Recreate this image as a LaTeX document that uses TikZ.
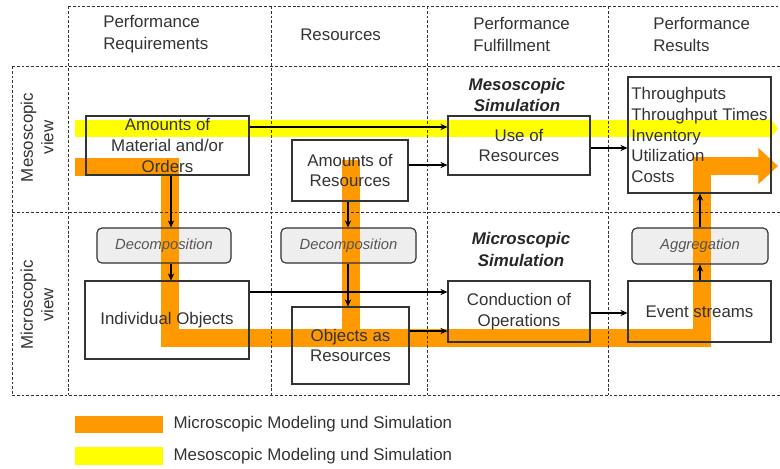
\documentclass[tikz,border=0pt]{standalone}
\usepackage{fontspec}
\setmainfont{Liberation Sans}
\usetikzlibrary{positioning}
\usetikzlibrary{arrows.meta}
\usetikzlibrary{backgrounds}

\definecolor{bandorange}{HTML}{FF9900}
\definecolor{bandyellow}{HTML}{FFFF00}
\definecolor{inkgray}{HTML}{333333}
\definecolor{decofill}{HTML}{EEEEEE}
\definecolor{decotext}{HTML}{555555}

\tikzset{
  gridline/.style={inkgray, line width=0.7pt, dash pattern=on 2pt off 1.4pt},
  block/.style={draw=inkgray, line width=0.8pt, text=inkgray, align=center,
    inner sep=1pt, font=\fontsize{12}{14.6}\selectfont},
  opbox/.style={draw=inkgray, line width=0.8pt, rounded corners=3.5pt,
    text=decotext, font=\fontsize{10.5}{12}\selectfont\itshape},
  headtext/.style={text=inkgray, align=left, anchor=west, inner sep=0pt,
    font=\fontsize{12}{15.5}\selectfont},
  viewtext/.style={text=inkgray, align=center, rotate=90, inner sep=0pt,
    font=\fontsize{12}{14.6}\selectfont},
  simtext/.style={text=black!85, align=center, inner sep=0pt,
    font=\fontsize{12}{15}\selectfont\bfseries\itshape},
  flow/.style={-{Stealth[length=5pt,width=4.5pt]}, line width=0.8pt, black},
  microband/.style={bandorange, line width=0.45cm},
  mesoband/.style={bandyellow, line width=0.425cm},
  legendtext/.style={text=inkgray, anchor=west, inner sep=0pt,
    font=\fontsize{12}{14.6}\selectfont},
}

\begin{document}
\begin{tikzpicture}[x=0.025cm, y=-0.025cm]

  \useasboundingbox (0,0) rectangle (780,468);

  % column and row headers
  \node[headtext] (hreq) at (103,34.5) {Performance\\Requirements};
  \node[headtext] (hres) at (300,35)   {Resources};
  \node[headtext] (hful) at (473,34.5) {Performance\\Fulfillment};
  \node[headtext] (hout) at (653,34.5) {Performance\\Results};

  \node[viewtext] (vmeso)  at (37,137.5) {Mesoscopic\\view};
  \node[viewtext] (vmicro) at (37,305)   {Microscopic\\view};

  \node[simtext] (smeso)  at (517,95)    {Mesoscopic\\Simulation};
  \node[simtext] (smicro) at (521,249.5) {Microscopic\\Simulation};

  % mesoscopic row
  \node[block, minimum width=4.075cm, minimum height=1.475cm] (mat) at (167.5,145.5)
    {Amounts of\\Material and/or\\Orders};
  \node[block, minimum width=2.9cm, minimum height=1.525cm] (res) at (350,170.5)
    {Amounts of\\Resources};
  \node[block, minimum width=3.55cm, minimum height=1.475cm] (use) at (519,145.5)
    {Use of\\Resources};
  \node[block, align=left, minimum width=3.575cm, minimum height=2.9cm,
    font=\fontsize{12}{14.7}\selectfont] (thr) at (699.5,135)
    {Throughputs\\Throughput Times\\Inventory\\Utilization\\Costs};

  % decomposition / aggregation
  \node[opbox, minimum width=3.35cm, minimum height=0.875cm]  (dec1) at (164,245.5) {Decomposition};
  \node[opbox, minimum width=3.375cm, minimum height=0.875cm] (dec2) at (348.5,245.5) {Decomposition};
  \node[opbox, minimum width=3.4cm, minimum height=0.9cm]     (agg)  at (700,246) {Aggregation};

  % microscopic row
  \node[block, minimum width=4.1cm, minimum height=1.95cm] (ind) at (167,320)
    {Individual Objects};
  \node[block, minimum width=2.925cm, minimum height=1.925cm] (obj) at (350.5,345.5)
    {Objects as\\Resources};
  \node[block, minimum width=3.55cm, minimum height=1.525cm] (con) at (519,311.5)
    {Conduction of\\Operations};
  \node[block, minimum width=3.575cm, minimum height=1.525cm] (evt) at (699.5,311.5)
    {Event streams};

  % helper lines for the connectors
  \coordinate (colA) at (171,0);
  \coordinate (colB) at (348,0);
  \coordinate (colC) at (700,0);
  \coordinate (rowA) at (0,127);
  \coordinate (rowB) at (0,165);
  \coordinate (rowC) at (0,148);
  \coordinate (rowD) at (0,292);
  \coordinate (rowE) at (0,331);
  \coordinate (rowF) at (0,313);

  % grid
  \draw[gridline] (68,6) -- (780,6);
  \draw[gridline] (12,66) -- (780,66);
  \draw[gridline] (12,212) -- (780,212);
  \draw[gridline] (12,395) -- (780,395);
  \draw[gridline] (12,66) -- (12,395);
  \foreach \gx in {68,271,427,608}
    \draw[gridline] (\gx,6) -- (\gx,395);

  % connectors
  \draw[flow] (mat.south -| colA) -- (dec1.north -| colA);
  \draw[flow] (dec1.south -| colA) -- (ind.north -| colA);
  \draw[flow] (res.south -| colB) -- (dec2.north -| colB);
  \draw[flow] (dec2.south -| colB) -- (obj.north -| colB);
  \draw[flow] (evt.north -| colC) -- (agg.south -| colC);
  \draw[flow] (agg.north -| colC) -- (thr.south -| colC);

  \draw[flow] (mat.east |- rowA) -- (use.west |- rowA);
  \draw[flow] (res.east |- rowB) -- (use.west |- rowB);
  \draw[flow] (use.east |- rowC) -- (thr.west |- rowC);
  \draw[flow] (ind.east |- rowD) -- (con.west |- rowD);
  \draw[flow] (obj.east |- rowE) -- (con.west |- rowE);
  \draw[flow] (con.east |- rowF) -- (evt.west |- rowF);

  % bands behind the boxes
  \begin{scope}[on background layer]
    \fill[decofill, rounded corners=3.5pt] (dec1.south west) rectangle (dec1.north east);
    \fill[decofill, rounded corners=3.5pt] (dec2.south west) rectangle (dec2.north east);
    \fill[decofill, rounded corners=3.5pt] (agg.south west) rectangle (agg.north east);

    \draw[mesoband, -{Triangle[length=6pt,width=15pt]}] (75,128.5) -- (778,128.5);

    \draw[microband, -{Triangle[length=14pt,width=25pt]}]
      (75,166.5) -- (169.5,166.5) -- (169.5,338) -- (702,338) -- (702,166) -- (778,166);
    \draw[microband] (350.5,160) -- (350.5,338);
  \end{scope}

  % legend
  \node[fill=bandorange, minimum width=2.2cm, minimum height=0.425cm, inner sep=0pt] (keymicro) at (119,424.5) {};
  \node[fill=bandyellow, minimum width=2.2cm, minimum height=0.45cm, inner sep=0pt]  (keymeso)  at (119,456) {};
  \node[legendtext, right=0.25cm of keymicro] (lmicro) {Microscopic Modeling und Simulation};
  \node[legendtext, right=0.25cm of keymeso]  (lmeso)  {Mesoscopic Modeling und Simulation};

\end{tikzpicture}
\end{document}
